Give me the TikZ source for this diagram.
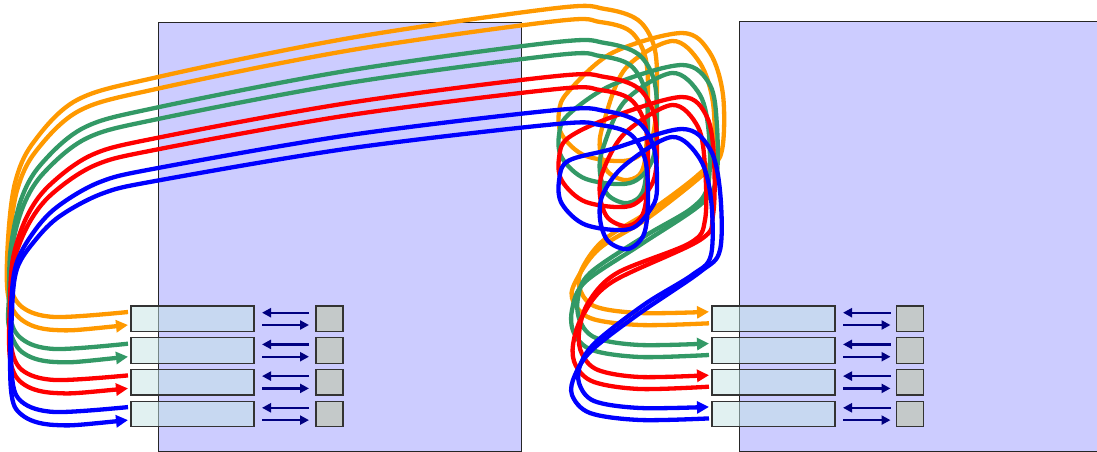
\documentclass[tikz,border=0pt]{standalone}
\usetikzlibrary{arrows.meta}
\definecolor{wOrange}{RGB}{255,153,0}
\definecolor{wGreen}{RGB}{51,153,102}
\definecolor{wRed}{RGB}{255,0,0}
\definecolor{wBlue}{RGB}{0,0,255}
\definecolor{panelc}{RGB}{204,204,255}
\definecolor{boxc}{RGB}{195,228,228}
\definecolor{grayc}{RGB}{196,201,201}
\definecolor{navyc}{RGB}{0,0,128}
\begin{document}
\begin{tikzpicture}[x=1pt,y=-1pt,
 panel/.style={fill=panelc,draw=black!85,line width=1pt},
 lbox/.style={draw=black!80,line width=1.3pt,fill=boxc,fill opacity=0.5,minimum width=123pt,minimum height=25.5pt,inner sep=0pt,outer sep=0pt},
 gbox/.style={draw=black!80,line width=1.3pt,fill=grayc,minimum width=27pt,minimum height=25.5pt,inner sep=0pt,outer sep=0pt},
 smallarr/.style={draw=navyc,line width=2.4pt,-{Triangle[length=9pt,width=9pt]}},
 wire/.style={line width=4.3pt,line join=round},
 inwire/.style={wire,{Triangle[length=12pt,width=12pt]}-},
 outwire/.style={wire,-{Triangle[length=12pt,width=12pt]}},
 sm/.style={smooth,tension=0.55}]
\useasboundingbox (0,0) rectangle (1097,452);
\path[panel] (158,22.5) rectangle (521,451);
\path[panel] (739,22) rectangle (1110,451);
\foreach \i/\y in {1/318.8,2/350.5,3/382.2,4/413.9}{
  \node[lbox] (L\i) at (192.5,\y) {};
  \node[gbox] (LG\i) at (329.5,\y) {};
  \node[lbox] (R\i) at (773.5,\y) {};
  \node[gbox] (RG\i) at (910,\y) {};
  \draw[smallarr] ([xshift=-7pt,yshift=6.1pt]LG\i.west) -- ([xshift=8pt,yshift=6.1pt]L\i.east);
  \draw[smallarr] ([xshift=8pt,yshift=-6.2pt]L\i.east) -- ([xshift=-7pt,yshift=-6.2pt]LG\i.west);
  \draw[smallarr] ([xshift=-6pt,yshift=6.1pt]RG\i.west) -- ([xshift=8pt,yshift=6.1pt]R\i.east);
  \draw[smallarr] ([xshift=8pt,yshift=-6.2pt]R\i.east) -- ([xshift=-6pt,yshift=-6.2pt]RG\i.west);
  \coordinate (L\i u) at ([xshift=-3pt,yshift=6.8pt]L\i.west);
  \coordinate (L\i l) at ([xshift=-3pt,yshift=-6.2pt]L\i.west);
  \coordinate (R\i u) at ([xshift=-3pt,yshift=7pt]R\i.west);
  \coordinate (R\i l) at ([xshift=-3pt,yshift=-4.5pt]R\i.west);
}
% orange
\draw[inwire,wOrange] plot[sm] coordinates {(L1l) (55,330) (22,320) (8,295) (8,240) (15,183) (33,143) (77,100) (158,77) (350,38) (557,8) (605,9) (638,20) (654,46) (657,86) (652,138) (630,160) (586,156) (562,135) (559,112) (568,92) (612,53) (682,33) (710,53) (723,95) (722,150) (706,172) (648,218) (600,248) (578,277) (572,298) (590,318) (640,325) (R1l)};
\draw[outwire,wOrange] plot[sm] coordinates {(L1u) (55,317) (22,307) (9,282) (9,243) (17.3,189.4) (36,151.1) (79.9,110.4) (158,88.6) (350,50.3) (557,21) (600,22) (630,31) (645,56) (648,96) (644,165) (628,180) (608,172) (600,150) (603,125) (625,69) (672,41) (700,63) (713,103) (713,155) (698,175) (653,209) (605,239) (584,265) (579,286) (594,306) (640,313) (R1u)};
% green
\draw[inwire,wGreen] plot[sm] coordinates {(L2l) (55,362) (22,352) (9,327) (9,295) (10.7,248.3) (21,199.7) (41,164.3) (84.7,127.3) (158,107.3) (350,70.3) (557,42) (605,43) (638,54) (654,80) (657,120) (652,161) (630,183) (586,179) (562,158) (559,135) (568,115) (612,85) (682,65) (710,85) (717,127) (716,180) (700,205) (640,245) (585,282) (572,310) (574,333) (592,350) (640,357) (R2l)};
\draw[outwire,wGreen] plot[sm] coordinates {(L2u) (55,349) (22,339) (10,314) (11.7,251.5) (23.3,206) (44.1,172.5) (87.6,137.8) (158,119) (350,82.7) (557,55) (600,56) (630,65) (645,90) (648,130) (644,188) (628,203) (608,195) (600,173) (603,148) (625,101) (672,73) (700,95) (709,135) (708,185) (692,208) (645,236) (590,273) (578,298) (580,321) (596,338) (640,345) (R2u)};
% red
\draw[inwire,wRed] plot[sm] coordinates {(L3l) (55,393) (22,383) (10,358) (10,300) (13.3,256.7) (27,216.3) (49,185.7) (92.3,154.7) (158,137.7) (350,102.7) (557,76) (605,77) (638,88) (654,114) (657,154) (652,184) (630,206) (586,202) (562,181) (559,158) (568,138) (612,117) (682,97) (707,117) (714,159) (713,215) (700,240) (612,282) (583,315) (573,345) (576,366) (594,382) (640,389) (R3l)};
\draw[outwire,wRed] plot[sm] coordinates {(L3u) (55,380) (22,370) (11,345) (11,300) (14.4,259.9) (29.3,222.7) (52.1,193.8) (95.3,165.1) (158,149.3) (350,115) (557,89) (600,90) (630,99) (645,124) (648,164) (644,211) (628,226) (608,218) (600,196) (603,171) (625,133) (672,105) (698,127) (705,167) (705,220) (690,243) (617,273) (588,303) (579,333) (582,354) (598,370) (640,377) (R3u)};
% blue
\draw[inwire,wBlue] plot[sm] coordinates {(L4l) (55,425) (22,415) (11,390) (11,310) (16,265) (33,233) (57,207) (100,182) (158,168) (350,135) (557,110) (605,111) (638,122) (654,148) (657,188) (652,207) (630,229) (586,225) (562,204) (559,181) (568,161) (612,149) (682,129) (710,149) (720,191) (720,250) (700,272) (640,313) (592,350) (575,375) (572,395) (590,413) (640,420) (R4l)};
\draw[outwire,wBlue] plot[sm] coordinates {(L4u) (55,412) (22,402) (12,377) (12,310) (17.1,268.4) (35.5,239.9) (60.3,215.8) (103.2,193.2) (158,180.5) (350,148.3) (557,124) (600,125) (630,134) (645,159) (648,199) (644,234) (628,249) (608,241) (600,219) (603,194) (625,165) (672,137) (700,159) (711,199) (711,255) (692,275) (645,304) (597,341) (581,363) (579,383) (594,401) (640,408) (R4u)};
\end{tikzpicture}
\end{document}
